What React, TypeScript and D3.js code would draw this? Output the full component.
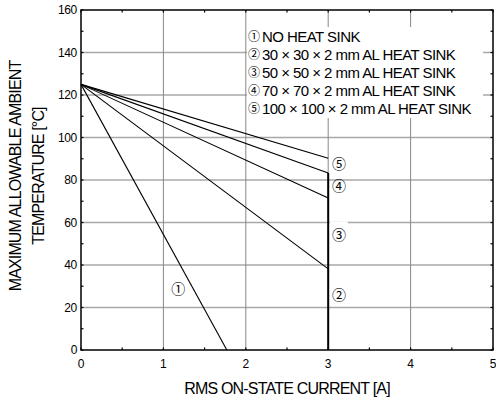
import React from "react";
import * as d3 from "d3";

const xTicks = [0, 1, 2, 3, 4, 5];
const yTicks = [0, 20, 40, 60, 80, 100, 120, 140, 160];
const xMinorTicks = [0, 0.5, 1, 1.5, 2, 2.5, 3, 3.5, 4, 4.5, 5];
const yMinorTicks = [0, 10, 20, 30, 40, 50, 60, 70, 80, 90, 100, 110, 120, 130, 140, 150, 160];

const circled = ["①", "②", "③", "④", "⑤"];
const seriesNames = [
  "NO HEAT SINK",
  "30 × 30 × 2 mm AL HEAT SINK",
  "50 × 50 × 2 mm AL HEAT SINK",
  "70 × 70 × 2 mm AL HEAT SINK",
  "100 × 100 × 2 mm AL HEAT SINK",
];
const startCurrent = 0;
const startTemp = 125;
const endCurrent = [1.77, 3, 3, 3, 3];
const endTemp = [0, 38.2, 71.5, 83.3, 90.2];
const limitCurrent = 3;
const limitTop = 83.3;
const labelX = [1.18, 3.13, 3.13, 3.13, 3.13];
const labelY = [28.6, 26, 54, 77, 87.5];

const W = 496;
const H = 401;
const left = 81;
const top = 10;
const right = 493;
const bottom = 350;
const font = "'Liberation Sans', Arial, sans-serif";
const cjk = "'Noto Sans CJK JP', 'DejaVu Sans', sans-serif";

export default function App() {
  const x = d3.scaleLinear().domain([0, 5]).range([left, right]);
  const y = d3.scaleLinear().domain([0, 160]).range([bottom, top]);
  const line = d3
    .line<[number, number]>()
    .x((d) => x(d[0]))
    .y((d) => y(d[1]));

  return (
    <svg width={W} height={H} style={{ position: "absolute", left: 0, top: 0, background: "#fff" }} fontFamily={font}>
      <rect x={0} y={0} width={W} height={H} fill="#fff" />
      {/* gridlines */}
      {yTicks.slice(1, -1).map((t) => (
        <line key={"gy" + t} x1={left} x2={right} y1={y(t)} y2={y(t)} stroke="#a8a8a8" strokeWidth={1.3} />
      ))}
      {xTicks.slice(1, -1).map((t) => (
        <line key={"gx" + t} x1={x(t)} x2={x(t)} y1={top} y2={bottom} stroke="#888" strokeWidth={1} />
      ))}
      {/* legend background */}
      <rect x={247} y={27} width={236} height={91} fill="#fff" />
      {/* minor ticks */}
      {xMinorTicks.map((t) => (
        <g key={"mx" + t}>
          <line x1={x(t)} x2={x(t)} y1={bottom} y2={bottom - 2.5} stroke="#000" strokeWidth={1.2} />
          <line x1={x(t)} x2={x(t)} y1={top} y2={top + 2.5} stroke="#000" strokeWidth={1.2} />
        </g>
      ))}
      {yMinorTicks.map((t) => (
        <g key={"my" + t}>
          <line x1={left} x2={left + 2.5} y1={y(t)} y2={y(t)} stroke="#000" strokeWidth={1.2} />
          <line x1={right} x2={right - 2.5} y1={y(t)} y2={y(t)} stroke="#000" strokeWidth={1.2} />
        </g>
      ))}
      {/* data lines */}
      {endCurrent.map((ec, i) => (
        <path
          key={"s" + i}
          d={line([
            [startCurrent, startTemp],
            [ec, endTemp[i]],
          ]) || ""}
          fill="none"
          stroke="#000"
          strokeWidth={1.1}
        />
      ))}
      <line x1={x(limitCurrent)} x2={x(limitCurrent)} y1={y(0)} y2={y(limitTop)} stroke="#000" strokeWidth={2} />
      {/* frame */}
      <rect x={left} y={top} width={right - left} height={bottom - top} fill="none" stroke="#000" strokeWidth={1.5} />
      {/* tick labels */}
      {yTicks.map((t) => (
        <text key={"ty" + t} x={left - 4} y={y(t)} dy="0.35em" textAnchor="end" fontSize={12} letterSpacing={-0.3}>
          {t}
        </text>
      ))}
      {xTicks.map((t) => (
        <text key={"tx" + t} x={x(t)} y={368} textAnchor="middle" fontSize={12}>
          {t}
        </text>
      ))}
      {/* axis titles */}
      <text x={287} y={394} textAnchor="middle" fontSize={16} letterSpacing={-0.8}>
        RMS ON-STATE CURRENT [A]
      </text>
      <g transform="translate(0,176) rotate(-90)">
        <text x={0} y={21} textAnchor="middle" fontSize={16} letterSpacing={-0.85}>
          MAXIMUM ALLOWABLE AMBIENT
        </text>
        <text x={0} y={44} textAnchor="middle" fontSize={16} letterSpacing={-0.85}>
          TEMPERATURE [°C]
        </text>
      </g>
      {/* legend */}
      {seriesNames.map((n, i) => (
        <g key={"lg" + i}>
          <text x={254} y={41 + i * 18} textAnchor="middle" fontSize={12} fontFamily={cjk}>
            {circled[i]}
          </text>
          <text x={262} y={41.5 + i * 18} fontSize={15} letterSpacing={-0.55}>
            {n}
          </text>
        </g>
      ))}
      {/* curve labels */}
      <rect x={x(3.02)} y={y(60) - 1} width={18} height={8} fill="#fff" />
      {labelX.map((lx, i) => (
        <text key={"cl" + i} x={x(lx)} y={y(labelY[i])} dy="0.36em" textAnchor="middle" fontSize={14} fontFamily={cjk}>
          {circled[i]}
        </text>
      ))}
    </svg>
  );
}
